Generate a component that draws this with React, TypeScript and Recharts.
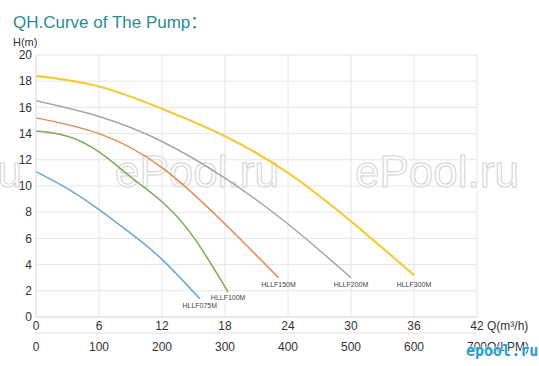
import { LineChart, Line, XAxis, YAxis, CartesianGrid } from "recharts";

// Q (m³/h) and head H (m)
const q075 = [0, 3, 6, 9, 12, 15.6];
const h075 = [11.1, 9.8, 8.2, 6.4, 4.4, 1.4];

const q100 = [0, 3, 6, 9, 12, 15, 18.3];
const h100 = [14.2, 13.8, 12.6, 10.7, 8.8, 6.1, 1.9];

const q150 = [0, 6, 12, 18, 23.1];
const h150 = [15.2, 14.0, 11.4, 7.1, 3.0];

const q200 = [0, 6, 12, 18, 24, 30];
const h200 = [16.5, 15.3, 13.4, 10.6, 7.1, 3.0];

const q300 = [0, 6, 12, 18, 24, 30, 36];
const h300 = [18.4, 17.6, 15.9, 13.8, 11.0, 7.3, 3.2];

const qTicks = [0, 6, 12, 18, 24, 30, 36, 42];
const lpmTicks = [0, 100, 200, 300, 400, 500, 600, 700];
const hTicks = [0, 2, 4, 6, 8, 10, 12, 14, 16, 18, 20];

const FONT = "'Liberation Sans', Arial, sans-serif";

const toRows = (qs: number[], hs: number[]) => qs.map((q, i) => ({ q, h: hs[i] }));

const SERIES = [
  { name: "HLLF075M", q: q075, h: h075, color: "#6aa8d6", width: 1.5, labelDy: 7 },
  { name: "HLLF100M", q: q100, h: h100, color: "#7eaa5c", width: 1.5, labelDy: 5 },
  { name: "HLLF150M", q: q150, h: h150, color: "#e28a52", width: 1.5, labelDy: 7 },
  { name: "HLLF200M", q: q200, h: h200, color: "#a6a6a6", width: 1.5, labelDy: 7 },
  { name: "HLLF300M", q: q300, h: h300, color: "#f2cc3c", width: 2.2, labelDy: 9 },
];

const QTick = ({ x, y, payload }: any) => (
  <g>
    <text x={x} y={y} dy="0.71em" textAnchor="middle" fontSize={12} fill="#333" fontFamily={FONT}>
      {payload.value}
    </text>
    {payload.value === 42 && (
      <text x={x + 10} y={y} dy="0.71em" textAnchor="start" fontSize={12} fill="#333" fontFamily={FONT}>
        Q(m³/h)
      </text>
    )}
  </g>
);

const LpmTick = ({ x, y, payload }: any) => (
  <g>
    <text x={x} y={y} dy="0.71em" textAnchor="middle" fontSize={12} fill="#333" fontFamily={FONT}>
      {payload.value}
    </text>
    {payload.value === 700 && (
      <text x={x + 10} y={y} dy="0.71em" textAnchor="start" fontSize={12} fill="#333" fontFamily={FONT}>
        Q(LPM)
      </text>
    )}
  </g>
);

const endLabel = (name: string, last: number, dy: number) => (props: any) => {
  if (props.index !== last) return null;
  return (
    <text
      key={name}
      x={props.x}
      y={props.y + dy}
      dy="0.35em"
      textAnchor="middle"
      fontSize={7}
      fill="#444"
      fontFamily={FONT}
    >
      {name}
    </text>
  );
};

export default function App() {
  return (
    <div style={{ position: "absolute", left: 0, top: 0, width: 539, height: 366, background: "#fff" }}>
      {/* watermark */}
      <svg width={539} height={366} style={{ position: "absolute", left: 0, top: 0 }}>
        <g fontFamily={FONT} fontSize={44} fill="none" stroke="#d2d2d2" strokeWidth={1}>
          <text x={22} y={187} textAnchor="end">ePool.ru</text>
          <text x={115} y={187}>ePool.ru</text>
          <text x={355} y={187}>ePool.ru</text>
        </g>
      </svg>
      <div
        style={{
          position: "absolute",
          left: 13,
          top: 8,
          fontFamily: "'Liberation Sans', 'Noto Sans CJK SC', sans-serif",
          fontSize: 17,
          color: "#2d8b91",
        }}
      >
        QH.Curve of The Pump：
      </div>
      <div style={{ position: "absolute", left: 13, top: 36, fontFamily: FONT, fontSize: 11, color: "#333" }}>
        H(m)
      </div>
      <div style={{ position: "absolute", left: 0, top: 0 }}>
        <LineChart width={539} height={366} margin={{ top: 55, right: 62, left: 0, bottom: 0 }}>
          <CartesianGrid stroke="#e6e6e6" />
          <XAxis
            dataKey="q"
            type="number"
            domain={[0, 42]}
            ticks={qTicks}
            height={16}
            tickSize={0}
            tickMargin={4}
            axisLine={{ stroke: "#e0e0e0" }}
            tick={<QTick />}
            interval={0}
          />
          <XAxis
            xAxisId="lpm"
            dataKey="lpm"
            type="number"
            domain={[0, 700]}
            ticks={lpmTicks}
            allowDataOverflow
            height={33}
            tickSize={0}
            tickMargin={9}
            axisLine={{ stroke: "#e0e0e0" }}
            tick={<LpmTick />}
            interval={0}
          />
          <YAxis
            type="number"
            domain={[0, 20]}
            ticks={hTicks}
            width={36}
            tickSize={0}
            tickMargin={4}
            axisLine={{ stroke: "#e0e0e0" }}
            tick={{ fontSize: 12, fill: "#333", fontFamily: FONT }}
            interval={0}
          />
          {/* carries the LPM scale so its axis gets drawn; has no head values */}
          <Line
            xAxisId="lpm"
            data={lpmTicks.map((lpm) => ({ lpm }))}
            dataKey="h"
            stroke="none"
            dot={false}
            activeDot={false}
            isAnimationActive={false}
          />
          {SERIES.map((s) => (
            <Line
              key={s.name}
              data={toRows(s.q, s.h)}
              dataKey="h"
              type="natural"
              stroke={s.color}
              strokeWidth={s.width}
              dot={false}
              isAnimationActive={false}
              label={endLabel(s.name, s.q.length - 1, s.labelDy)}
            />
          ))}
        </LineChart>
      </div>
      <div
        style={{
          position: "absolute",
          left: 466,
          top: 342,
          fontFamily: "'DejaVu Sans Mono', monospace",
          fontWeight: "bold",
          fontSize: 15,
          color: "#1e9fd8",
          textShadow: "0 0 2px #fff, 0 0 2px #fff",
        }}
      >
        epool.ru
      </div>
    </div>
  );
}
